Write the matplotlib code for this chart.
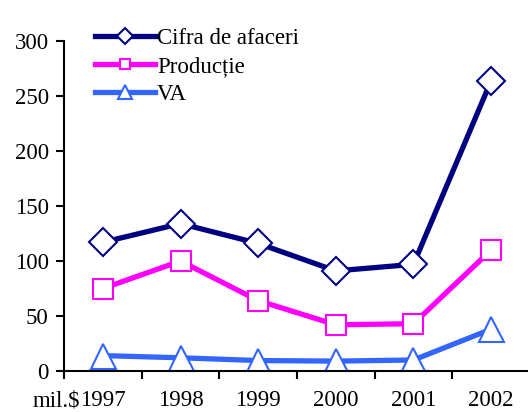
import numpy as np
import matplotlib.pyplot as plt

plt.rcParams['font.family'] = ['Liberation Serif', 'DejaVu Serif']

ani = ['1997', '1998', '1999', '2000', '2001', '2002']
cifra_afaceri = [117, 134, 116, 91, 97, 264]
productie = [75, 100, 64, 42, 43, 110]
va = [14, 12, 9.5, 9, 10, 38]

fig = plt.figure(figsize=(5.28, 4.12), dpi=100)
ax = fig.add_axes([64/528, 41/412, 466/528, 330/412])
x = np.arange(len(ani))

ax.plot(x, cifra_afaceri, '-D', color='#000080', lw=3.8, ms=14,
        mfc='white', mec='#000080', mew=1.5, label='Cifra de afaceri')
ax.plot(x, productie, '-s', color='#FF00FF', lw=3.8, ms=14,
        mfc='white', mec='#FF00FF', mew=1.5, label='Producție')
ax.plot(x, va, '-^', color='#3366FF', lw=3.8, ms=18,
        mfc='white', mec='#3366FF', mew=1.5, label='VA')

ax.set_xlim(-0.5, 5.5)
ax.set_ylim(0, 300)
ax.set_yticks(range(0, 301, 50))
ax.set_xticks(x)
ax.set_xticklabels(ani)
ax.set_xticks(np.arange(-0.5, 5.6, 1), minor=True)
ax.tick_params(axis='x', which='major', length=0, labelsize=16.5, pad=14)
ax.tick_params(axis='x', which='minor', length=6, width=1.5, direction='out')
ax.tick_params(axis='y', length=6, width=1.5, labelsize=16.5, pad=5)
for s in ['top', 'right']:
    ax.spines[s].set_visible(False)
for s in ['left', 'bottom']:
    ax.spines[s].set_linewidth(1.5)

lbl = ax.get_xticklabels()[0]
fig.canvas.draw()
bb = lbl.get_window_extent()
fig.text(bb.x0 / fig.bbox.width, bb.y0 / fig.bbox.height, 'mil.$',
         ha='right', va='bottom', fontsize=16.5)

ax.legend(loc='upper left', bbox_to_anchor=(95/528, 1 - 28/412),
          bbox_transform=fig.transFigure, frameon=False,
          fontsize=16.5, handlelength=2.6, handletextpad=0.1,
          labelspacing=0.3, markerscale=0.55, borderpad=0, borderaxespad=0)

fig.savefig('out.png', dpi=100)
